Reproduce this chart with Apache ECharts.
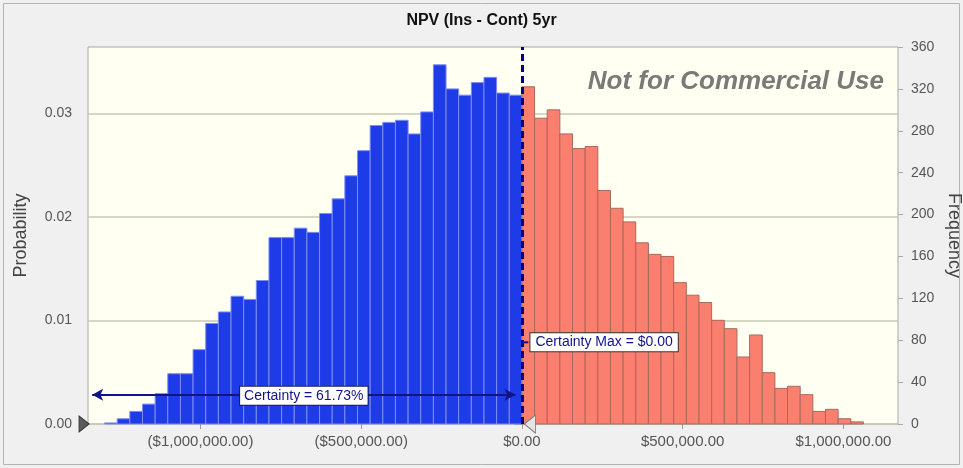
<!DOCTYPE html>
<html>
<head>
    <meta charset="utf-8" />
    <title>NPV (Ins - Cont) 5yr</title>
    <script src="https://cdn.jsdelivr.net/npm/echarts@6.0.0/dist/echarts.min.js"></script>
    <style>
        html, body { margin: 0; padding: 0; background: #f0f0f0; }
    </style>
</head>
<body>
    <div id="main" style="width: 963px;height: 468px;"></div>

<script type="text/javascript">
    // histogram bins, width in $
    var BIN_WIDTH = 39350;
    // frequencies of the bins left of $0 (certainty range), left to right
    var blueFreq = [1, 5, 12, 19, 29, 48, 48, 71, 96, 107, 122, 119, 137, 178, 178, 187, 183,
        201, 215, 237, 261, 285, 288, 290, 277, 298, 343, 320, 314, 326, 331, 316, 314];
    // frequencies of the bins right of $0
    var redFreq = [322, 292, 300, 277, 263, 265, 223, 206, 193, 173, 162, 160, 135, 123, 116,
        99, 91, 64, 85, 49, 34, 36, 28, 12, 14, 5, 2];

    var xTicks = [-1000000, -500000, 0, 500000, 1000000];
    var probTicks = [0, 0.01, 0.02, 0.03];
    var certainty = '61.73%';
    var certaintyMax = 0;

    var blueData = blueFreq.map(function (f, i) {
        var start = -(blueFreq.length - i) * BIN_WIDTH;
        return [start, start + BIN_WIDTH, f];
    });
    var redData = redFreq.map(function (f, i) {
        var start = i * BIN_WIDTH;
        return [start, start + BIN_WIDTH, f];
    });

    function money(v) {
        var s = '$' + Math.abs(v).toLocaleString('en-US', {minimumFractionDigits: 2, maximumFractionDigits: 2});
        return v < 0 ? '(' + s + ')' : s;
    }

    function barRenderer(fill, stroke) {
        return function (params, api) {
            var p0 = api.coord([api.value(0), api.value(2)]);
            var p1 = api.coord([api.value(1), 0]);
            return {
                type: 'rect',
                shape: {x: p0[0], y: p0[1], width: p1[0] - p0[0], height: p1[1] - p0[1]},
                style: {fill: fill, stroke: stroke, lineWidth: 1}
            };
        };
    }

    var FONT = '"Liberation Sans", Arial, sans-serif';
    var navy = '#12128a';

    var chart = echarts.init(document.getElementById('main'));

    var option = {
        animation: false,
        backgroundColor: '#f0f0f0',
        textStyle: {fontFamily: FONT},
        title: {
            text: 'NPV (Ins - Cont) 5yr',
            left: 'center',
            top: 8,
            textStyle: {fontSize: 16, fontWeight: 'bold', color: '#111', fontFamily: FONT}
        },
        graphic: [
            {
                type: 'rect',
                shape: {x: 3.5, y: 3.5, width: 956, height: 461},
                style: {fill: null, stroke: '#b4b4b4', lineWidth: 1}
            },
            {
                type: 'text',
                z: 10,
                style: {
                    text: 'Not for Commercial Use',
                    x: 884, y: 82,
                    textAlign: 'right',
                    textVerticalAlign: 'middle',
                    font: 'italic bold 26px "Liberation Sans", Arial, sans-serif',
                    fill: '#7a7a78'
                }
            }
        ],
        grid: {
            left: 88, right: 65, top: 47, bottom: 44,
            outerBoundsMode: 'none',
            containLabel: false,
            show: true,
            backgroundColor: '#fffff2',
            borderColor: '#a8a8a8',
            borderWidth: 1
        },
        xAxis: {
            type: 'value',
            min: -1350000,
            max: 1170000,
            axisLine: {show: false},
            splitLine: {show: false},
            axisTick: {show: true, customValues: xTicks, length: 5, lineStyle: {color: '#999'}},
            axisLabel: {
                customValues: xTicks,
                formatter: money,
                color: '#555',
                fontSize: 15,
                margin: 10
            }
        },
        yAxis: [
            {
                type: 'value',
                position: 'left',
                min: 0,
                max: 0.0364,
                name: 'Probability',
                nameLocation: 'middle',
                nameGap: 58,
                nameTextStyle: {fontSize: 18, color: '#444'},
                axisLine: {show: false},
                axisTick: {show: true, customValues: probTicks, length: 7, lineStyle: {color: '#999'}},
                splitLine: {show: true, lineStyle: {color: '#c9c9b6', width: 1.5}},
                axisLabel: {
                    customValues: probTicks,
                    formatter: function (v) { return v.toFixed(2); },
                    color: '#555',
                    fontSize: 14,
                    margin: 16
                }
            },
            {
                type: 'value',
                position: 'right',
                min: 0,
                max: 360,
                interval: 40,
                name: 'Frequency',
                nameLocation: 'middle',
                nameRotate: -90,
                nameGap: 45,
                nameTextStyle: {fontSize: 18, color: '#444'},
                axisLine: {show: false},
                axisTick: {show: true, length: 5, lineStyle: {color: '#aaa'}},
                splitLine: {show: false},
                axisLabel: {color: '#555', fontSize: 14, margin: 13}
            }
        ],
        series: [
            {
                name: 'Certainty',
                type: 'custom',
                yAxisIndex: 1,
                renderItem: barRenderer('#1d3be6', '#7f8cf2'),
                encode: {x: [0, 1], y: 2},
                data: blueData,
                markLine: {
                    silent: true,
                    symbol: ['arrow', 'arrow'],
                    symbolSize: [9, 11],
                    lineStyle: {color: navy, width: 2, type: 'solid'},
                    label: {
                        show: true,
                        position: 'middle',
                        distance: -10,
                        formatter: 'Certainty = ' + certainty,
                        color: navy,
                        fontSize: 14,
                        backgroundColor: '#fff',
                        borderColor: '#1a1a60',
                        borderWidth: 1,
                        padding: [2, 4]
                    },
                    data: [[{coord: [-1337000, 28]}, {coord: [-20000, 28]}]]
                }
            },
            {
                name: 'Rest',
                type: 'custom',
                yAxisIndex: 1,
                renderItem: barRenderer('#fb7f6e', '#a8695e'),
                encode: {x: [0, 1], y: 2},
                data: redData,
                markLine: {
                    silent: true,
                    symbol: 'none',
                    lineStyle: {color: '#000080', width: 3, type: [7, 4]},
                    label: {show: false},
                    data: [{xAxis: certaintyMax}]
                },
                markPoint: {
                    silent: true,
                    data: [
                        {
                            coord: [certaintyMax, 78],
                            symbol: 'rect',
                            symbolSize: [7, 2],
                            symbolOffset: [3, 0],
                            itemStyle: {color: navy},
                            label: {
                                show: true,
                                position: 'right',
                                distance: 2,
                                formatter: 'Certainty Max = ' + money(certaintyMax),
                                color: navy,
                                fontSize: 14,
                                backgroundColor: '#fff',
                                borderColor: '#333',
                                borderWidth: 1,
                                padding: [2, 5]
                            }
                        },
                        {
                            coord: [-1350000, 0],
                            symbol: 'triangle',
                            symbolRotate: -90,
                            symbolSize: [16, 10],
                            symbolOffset: [-4, 0],
                            itemStyle: {color: '#5c5c5c', borderColor: '#333', borderWidth: 1},
                            label: {show: false}
                        },
                        {
                            coord: [certaintyMax, 0],
                            symbol: 'triangle',
                            symbolRotate: 90,
                            symbolSize: [18, 11],
                            symbolOffset: [8, 0],
                            itemStyle: {color: '#e4e4e4', borderColor: '#777', borderWidth: 1},
                            label: {show: false}
                        }
                    ]
                }
            }
        ]
    };
    chart.setOption(option);
</script>
</body>
</html>
